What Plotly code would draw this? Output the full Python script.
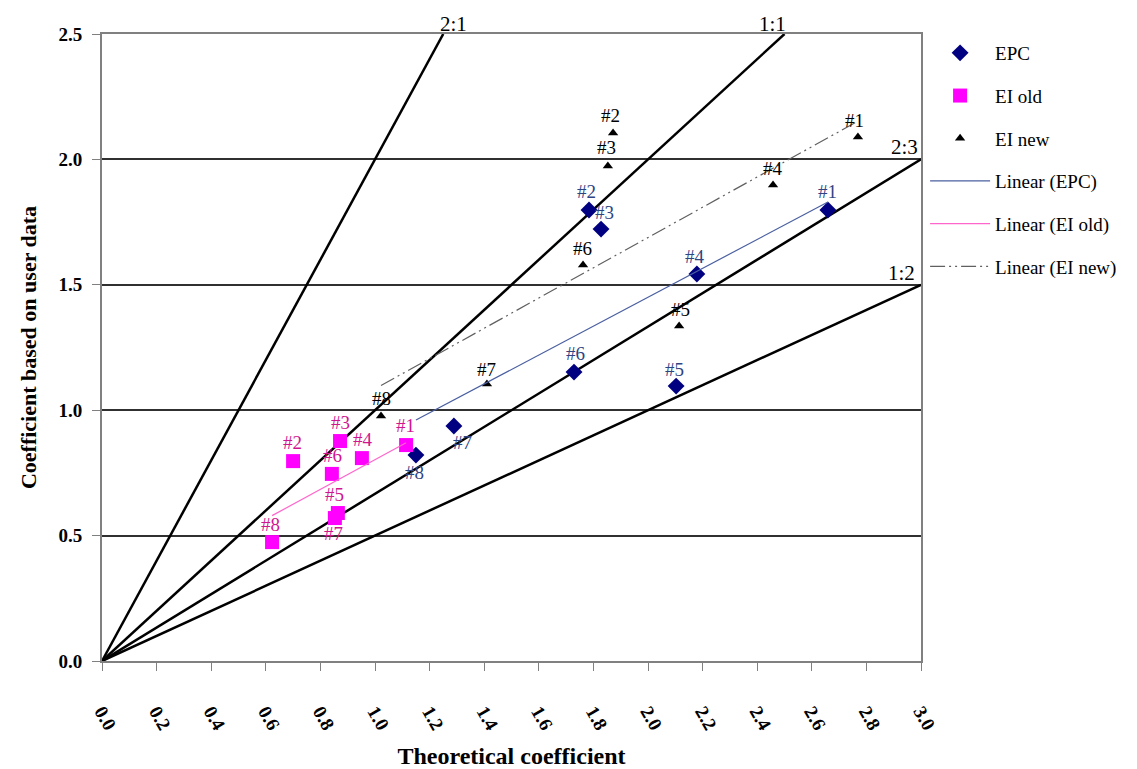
import numpy as np
import plotly.graph_objects as go

SERIF = "Liberation Serif, Times New Roman, serif"

labels = ["#1", "#2", "#3", "#4", "#5", "#6", "#7", "#8"]

epc_x = [2.659, 1.784, 1.828, 2.179, 2.103, 1.729, 1.289, 1.150]
epc_y = [1.798, 1.798, 1.722, 1.543, 1.096, 1.152, 0.937, 0.821]

old_x = [1.114, 0.700, 0.872, 0.952, 0.864, 0.842, 0.853, 0.623]
old_y = [0.861, 0.797, 0.877, 0.809, 0.590, 0.746, 0.570, 0.474]

new_x = [2.769, 1.872, 1.853, 2.458, 2.114, 1.762, 1.410, 1.022]
new_y = [2.089, 2.105, 1.974, 1.898, 1.336, 1.579, 1.104, 0.977]

ratio_names = ["2:1", "1:1", "2:3", "1:2"]
ratio_slopes = [2.0, 1.0, 2.0 / 3.0, 0.5]

x_ticks = [round(0.2 * i, 1) for i in range(16)]
y_ticks = [0.0, 0.5, 1.0, 1.5, 2.0, 2.5]

# label offsets (px): (xshift, yshift)
epc_off = [(0, 19), (-3, 19), (3, 17), (-2, 18), (-2, 17), (1, 19), (9, -16), (-1, -17)]
old_off = [(-1, 20), (-1, 19), (0, 19), (1, 19), (-3, 19), (1, 18), (-1, -15), (-2, 18)]
new_off = [(-3, 17), (-3, 18), (-1, 18), (0, 16), (1, 16), (-1, 16), (0, 15), (0, 17)]

EPC_C = "#000080"
OLD_C = "#FF00FF"
NEW_C = "#000000"
EPC_LBL = "#2E4483"
OLD_LBL = "#D0168F"

fig = go.Figure()

# ratio lines
for name, s in zip(ratio_names, ratio_slopes):
    xe = min(3.0, 2.5 / s)
    fig.add_trace(go.Scatter(x=[0, xe], y=[0, s * xe], mode="lines",
                             line=dict(color="black", width=2.5),
                             showlegend=False, hoverinfo="skip", cliponaxis=False))

fig.add_trace(go.Scatter(x=epc_x, y=epc_y, mode="markers", name="EPC",
                         marker=dict(symbol="diamond", color=EPC_C, size=13),
                         legendgroup="a"))
fig.add_trace(go.Scatter(x=old_x, y=old_y, mode="markers", name="EI old",
                         marker=dict(symbol="square", color=OLD_C, size=14),
                         legendgroup="b"))
fig.add_trace(go.Scatter(x=new_x, y=new_y, mode="markers", name="EI new",
                         marker=dict(symbol="triangle-up", color=NEW_C, size=9),
                         legendgroup="c"))


def trend(xs, ys):
    k, b = np.polyfit(xs, ys, 1)
    xx = np.array([min(xs), max(xs)])
    return xx, k * xx + b


tx, ty = trend(epc_x, epc_y)
fig.add_trace(go.Scatter(x=tx, y=ty, mode="lines", name="Linear (EPC)",
                         line=dict(color="#4A5FA0", width=1.2), legendgroup="d"))
tx, ty = trend(old_x, old_y)
fig.add_trace(go.Scatter(x=tx, y=ty, mode="lines", name="Linear (EI old)",
                         line=dict(color="#FF66CC", width=1.2), legendgroup="e"))
tx, ty = trend(new_x, new_y)
fig.add_trace(go.Scatter(x=tx, y=ty, mode="lines", name="Linear (EI new)",
                         line=dict(color="#606060", width=1.2, dash="15px,4px,2px,4px,2px,4px"),
                         legendgroup="f"))

ann = []
for xs, ys, offs, col in [(epc_x, epc_y, epc_off, EPC_LBL), (old_x, old_y, old_off, OLD_LBL),
                          (new_x, new_y, new_off, "#000000")]:
    for lb, x, y, (dx, dy) in zip(labels, xs, ys, offs):
        ann.append(dict(x=x, y=y, text=lb, showarrow=False, xshift=dx, yshift=dy,
                        font=dict(family=SERIF, size=19, color=col)))

RF = dict(family=SERIF, size=21, color="black")
ann.append(dict(x=1.25, y=2.5, text="2:1", showarrow=False, xanchor="center", yanchor="bottom",
                xshift=10, yshift=-4, font=RF))
ann.append(dict(x=2.5, y=2.5, text="1:1", showarrow=False, xanchor="center", yanchor="bottom",
                xshift=-12, yshift=-4, font=RF))
ann.append(dict(x=3.0, y=2.0, text="2:3", showarrow=False, xanchor="right", yanchor="bottom",
                xshift=-1, yshift=-2, font=RF))
ann.append(dict(x=3.0, y=1.5, text="1:2", showarrow=False, xanchor="right", yanchor="bottom",
                xshift=-4, yshift=-2, font=RF))

fig.update_layout(
    width=1137, height=769,
    margin=dict(l=102, r=216, t=34, b=108),
    plot_bgcolor="white", paper_bgcolor="white",
    font=dict(family=SERIF, size=19, color="black"),
    annotations=ann,
    showlegend=True,
    legend=dict(x=1.005, xanchor="left", y=1.0, yanchor="top", traceorder="grouped",
                tracegroupgap=15, font=dict(family=SERIF, size=19, color="black"),
                bgcolor="rgba(0,0,0,0)", itemwidth=60),
    xaxis=dict(range=[0, 3.0], tickvals=x_ticks, ticktext=[f"{v:.1f}" for v in x_ticks],
               tickangle=60, ticks="outside", ticklen=8, tickcolor="#808080",
               showline=True, linecolor="#808080", linewidth=2, mirror=True,
               showgrid=False, zeroline=False, ticklabelstandoff=22, automargin=False,
               tickfont=dict(family=SERIF, size=19, color="black", weight="bold"),
               title=dict(text="<b>Theoretical coefficient</b>", standoff=28,
                          font=dict(family=SERIF, size=24, color="black"))),
    yaxis=dict(range=[0, 2.5], tickvals=y_ticks, ticktext=[f"{v:.1f}" for v in y_ticks],
               ticks="outside", ticklen=8, tickcolor="#808080",
               showline=True, linecolor="#808080", linewidth=2, mirror=True,
               showgrid=True, gridcolor="#303030", gridwidth=1.5, zeroline=False,
               ticklabelstandoff=6, automargin=False,
               tickfont=dict(family=SERIF, size=19, color="black", weight="bold"),
               title=dict(text="<b>Coefficient based on user data</b>", standoff=16,
                          font=dict(family=SERIF, size=22, color="black"))),
)

fig.write_html("out.html")
